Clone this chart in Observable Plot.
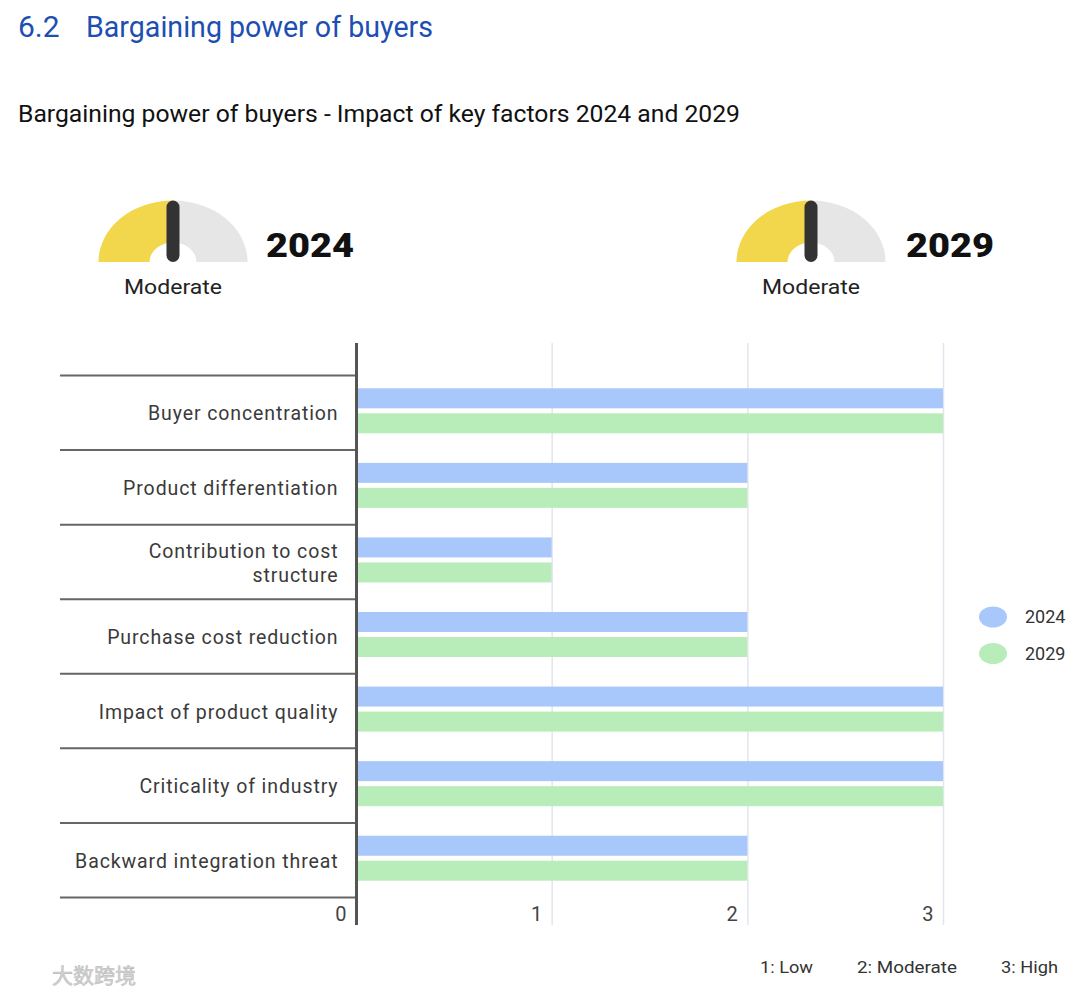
<!DOCTYPE html>
<html><head><meta charset="utf-8">
<script src="https://cdn.jsdelivr.net/npm/d3@7"></script>
<script src="https://cdn.jsdelivr.net/npm/@observablehq/plot@0.6"></script>
<style>
html,body{margin:0;padding:0;background:#fff;}
#page{position:relative;width:1080px;height:995px;overflow:hidden;font-family:Roboto,"Noto Sans",sans-serif;}
#chart{position:absolute;left:0;top:338px;}
#overlay{position:absolute;left:0;top:0;pointer-events:none;}
</style></head>
<body><div id="page"><div id="chart"></div></div>
<script>
// ---- data ----
const factors = [
  "Buyer concentration",
  "Product differentiation",
  "Contribution to cost structure",
  "Purchase cost reduction",
  "Impact of product quality",
  "Criticality of industry",
  "Backward integration threat"
];
const factorLabels = [
  "Buyer concentration",
  "Product differentiation",
  "Contribution to cost\nstructure",
  "Purchase cost reduction",
  "Impact of product quality",
  "Criticality of industry",
  "Backward integration threat"
];
const values2024 = [3, 2, 1, 2, 3, 3, 2];
const values2029 = [3, 2, 1, 2, 3, 3, 2];
const years = ["2024", "2029"];
const xTicks = [0, 1, 2, 3];
const scaleLabels = ["1: Low", "2: Moderate", "3: High"];
const overallLevels = [2, 2];           // 2024, 2029 overall rating (1-3)
const levelNames = ["Low", "Moderate", "High"];
const pageTitleNum = "6.2";
const pageTitle = "Bargaining power of buyers";
const chartTitle = "Bargaining power of buyers - Impact of key factors 2024 and 2029";
const watermark = "大数跨境";

// ---- styles ----
const blue = "#a8c7fa", green = "#b8edba";
const yellow = "#f2d64b", gaugeGray = "#e6e6e6", needle = "#333333";

const rows2024 = factors.map((f, i) => ({factor: f, label: factorLabels[i], value: values2024[i], year: years[0]}));
const rows2029 = factors.map((f, i) => ({factor: f, label: factorLabels[i], value: values2029[i], year: years[1]}));

const W = 1080, H = 600, mT = 37, mB = 41, mL = 356, mR = 137;
const step = (H - mT - mB) / factors.length;

const chart = Plot.plot({
  width: W, height: H,
  marginTop: mT, marginBottom: mB, marginLeft: mL, marginRight: mR,
  style: {fontFamily: "Roboto, 'Noto Sans', sans-serif", background: "transparent", overflow: "visible"},
  x: {domain: [0, 3], axis: null},
  y: {domain: factors, padding: 0, round: false, axis: null},
  marks: [
    Plot.ruleX(xTicks.slice(1), {stroke: "#e2e5ec", strokeWidth: 1.5, insetTop: -32, insetBottom: -28}),
    Plot.barX(rows2024, {x: "value", y: "factor", fill: blue, insetTop: 13.3, insetBottom: step - 33.3}),
    Plot.barX(rows2029, {x: "value", y: "factor", fill: green, insetTop: 38.3, insetBottom: step - 58.3}),
    Plot.ruleY(factors, {y: d => d, dy: -step / 2, stroke: "#666", strokeWidth: 2, insetLeft: -(mL - 60), insetRight: W - mL - mR}),
    Plot.ruleY(factors.slice(-1), {y: d => d, dy: step / 2, stroke: "#666", strokeWidth: 2, insetLeft: -(mL - 60), insetRight: W - mL - mR}),
    Plot.ruleX([0], {stroke: "#555", strokeWidth: 3, insetTop: -32, insetBottom: -28}),
    Plot.text(rows2024, {x: 0, y: "factor", text: "label", dx: -18, textAnchor: "end", fontSize: 19.5, fill: "#3a3a3a", lineHeight: 1.23}),
    Plot.text(xTicks, {x: d => d, text: d => String(d), frameAnchor: "bottom", dy: 23, dx: -10, textAnchor: "end", fontSize: 20, fill: "#444"})
  ]
});
document.getElementById("chart").appendChild(chart);
// letter-spacing for factor labels (first text mark)
d3.select(chart).selectAll('g[aria-label="text"]').filter((d, i) => i === 0)
  .selectAll("text").style("letter-spacing", "0.9px");

// ---- overlay: titles, gauges, legends ----
const svg = d3.select("#page").append("svg").attr("id", "overlay")
  .attr("width", W).attr("height", 995)
  .style("font-family", "Roboto, 'Noto Sans', sans-serif");

svg.append("text").attr("x", 18).attr("y", 37).attr("font-size", 30).attr("fill", "#1d4fb2").text(pageTitleNum);
svg.append("text").attr("x", 86).attr("y", 37).attr("font-size", 30).attr("fill", "#1d4fb2")
  .attr("textLength", 347).attr("lengthAdjust", "spacingAndGlyphs").text(pageTitle);
svg.append("text").attr("x", 18).attr("y", 122).attr("font-size", 23).attr("fill", "#111")
  .attr("textLength", 722).attr("lengthAdjust", "spacingAndGlyphs").text(chartTitle);

const gauges = [
  {cx: 173, cy: 262, yx: 266, label: years[0], level: overallLevels[0]},
  {cx: 811, cy: 262, yx: 906, label: years[1], level: overallLevels[1]}
];
const rIn = 23.5, rOut = 74.5, sy = 61.5 / 74.5;
gauges.forEach(g => {
  const ang = -Math.PI / 2 + (g.level - 1) / 2 * Math.PI;
  const grp = svg.append("g").attr("transform", `translate(${g.cx},${g.cy}) scale(1,${sy})`);
  grp.append("path").attr("fill", yellow)
    .attr("d", d3.arc()({innerRadius: rIn, outerRadius: rOut, startAngle: -Math.PI / 2, endAngle: ang}));
  grp.append("path").attr("fill", gaugeGray)
    .attr("d", d3.arc()({innerRadius: rIn, outerRadius: rOut, startAngle: ang, endAngle: Math.PI / 2}));
  svg.append("rect").attr("x", g.cx - 6.5).attr("y", g.cy - 61.5).attr("width", 13).attr("height", 61.5).attr("rx", 6.5)
    .attr("fill", needle).attr("transform", `rotate(${ang * 180 / Math.PI},${g.cx},${g.cy})`);
  svg.append("text").attr("x", g.cx).attr("y", 294).attr("text-anchor", "middle").attr("font-size", 21).attr("fill", "#222")
    .attr("textLength", 98).attr("lengthAdjust", "spacingAndGlyphs").text(levelNames[g.level - 1]);
  svg.append("text").attr("x", g.yx).attr("y", 257).attr("font-size", 33).attr("font-weight", 900).attr("fill", "#111")
    .attr("textLength", 88).attr("lengthAdjust", "spacingAndGlyphs").text(g.label);
});

// series legend
[[years[0], blue, 617], [years[1], green, 653.5]].forEach(([t, c, y]) => {
  svg.append("ellipse").attr("cx", 993).attr("cy", y).attr("rx", 14).attr("ry", 10.5).attr("fill", c);
  svg.append("text").attr("x", 1025).attr("y", y).attr("dy", "0.35em").attr("font-size", 18).attr("fill", "#333").text(t);
});

// scale legend
const sx = [760, 857, 1001], sw = [53, 100, 57];
scaleLabels.forEach((t, i) => {
  svg.append("text").attr("x", sx[i]).attr("y", 973).attr("font-size", 17).attr("fill", "#333")
    .attr("textLength", sw[i]).attr("lengthAdjust", "spacingAndGlyphs").text(t);
});

// watermark
svg.append("text").attr("x", 52).attr("y", 983).attr("font-size", 21)
  .attr("font-family", "'Noto Sans CJK SC', sans-serif").attr("fill", "#d4d4d4").attr("stroke", "#bdbdbd").attr("stroke-width", 0.6)
  .text(watermark);
</script>
</body></html>
